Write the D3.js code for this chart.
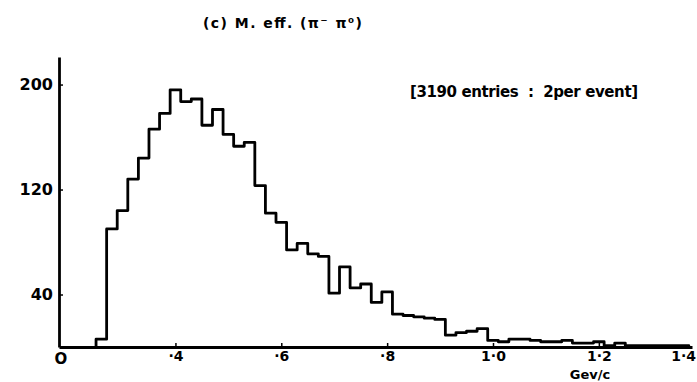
<!DOCTYPE html>
<html>
<head>
<meta charset="utf-8">
<script src="https://cdn.jsdelivr.net/npm/d3@7"></script>
<style>
  html, body { margin: 0; padding: 0; background: #fff; }
  svg { display: block; }
  text { font-family: "DejaVu Sans", "Liberation Sans", sans-serif; font-weight: bold; fill: #000; }
</style>
</head>
<body>
<script>
// ---- data ----
const binStart = 0.25;
const binWidth = 0.02;
const counts = [6, 90, 104, 128, 144, 166, 178, 196, 187, 189,
                169, 181, 162, 153, 156, 123, 102, 95, 74, 79,
                71, 69, 41, 61, 45, 48, 34, 42, 25, 24,
                23, 22, 21, 9, 11, 12, 14, 5, 4, 6,
                6, 5, 4, 4, 5, 3, 3, 4, 1, 3,
                1, 1, 1, 1, 1, 1];
const xTicks = [0.4, 0.6, 0.8, 1.0, 1.2, 1.4];
const xTickLabels = ["·4", "·6", "·8", "1·0", "1·2", "1·4"];
const yTicks = [40, 120, 200];
const titleText = "(c) M. eff. (π⁻ π⁰)";
const noteText = "[3190 entries  :  2per event]";
const xLabel = "Gev/c";
const originLabel = "O";

// ---- chart ----
const W = 697, H = 382;
const svg = d3.select("body").append("svg").attr("width", W).attr("height", H);

const x = d3.scaleLinear().domain([0.18, 1.376]).range([59, 692]);
const y = d3.scaleLinear().domain([0, 221]).range([347, 57]);

// histogram path
const pts = [[binStart, 0]];
counts.forEach((c, i) => {
  const e0 = binStart + i * binWidth, e1 = e0 + binWidth;
  pts.push([e0, c], [e1, c]);
});
pts.push([binStart + counts.length * binWidth, 0]);
const line = d3.line().x(d => x(d[0])).y(d => y(d[1]));
svg.append("path").attr("d", line(pts))
  .attr("fill", "none").attr("stroke", "#000").attr("stroke-width", 2.8)
  .attr("stroke-linejoin", "round");

// x axis
const xAxis = d3.axisBottom(x).tickValues(xTicks)
  .tickFormat((d, i) => xTickLabels[i]).tickSize(-4).tickSizeOuter(0).tickPadding(4);
const gx = svg.append("g").attr("transform", `translate(0,${y(0)})`).call(xAxis);
gx.select(".domain").attr("stroke-width", 2.8);
gx.selectAll(".tick line").attr("stroke-width", 1.5);
gx.selectAll(".tick text").style("font-size", "14px");
// last label sits at the axis end
const lastTick = gx.selectAll(".tick").filter(d => d > x.domain()[1])
  .attr("transform", `translate(${x.range()[1]},0)`);
lastTick.select("line").remove();
lastTick.select("text").attr("text-anchor", "end").attr("x", 4);

// y axis
const yAxis = d3.axisLeft(y).tickValues(yTicks).tickSize(-4).tickSizeOuter(0).tickPadding(6);
const gy = svg.append("g").attr("transform", `translate(${x.range()[0]},0)`).call(yAxis);
gy.select(".domain").attr("stroke-width", 2.8);
gy.selectAll(".tick line").attr("stroke-width", 1.5);
gy.selectAll(".tick text").style("font-size", "16px");

// origin label
svg.append("text").attr("x", x.range()[0] + 2).attr("y", y(0) + 17)
  .attr("text-anchor", "middle").style("font-size", "15px").text(originLabel);

// axis unit
svg.append("text").attr("x", 590).attr("y", 379)
  .attr("text-anchor", "middle").style("font-size", "13px").text(xLabel);

// title
svg.append("text").attr("x", 203).attr("y", 28)
  .attr("textLength", 159).attr("lengthAdjust", "spacing")
  .style("font-size", "14px").text(titleText);

// note
svg.append("text").attr("x", 410).attr("y", 97)
  .attr("textLength", 228).attr("lengthAdjust", "spacing")
  .style("font-size", "15px").style("white-space", "pre").text(noteText);
</script>
</body>
</html>
